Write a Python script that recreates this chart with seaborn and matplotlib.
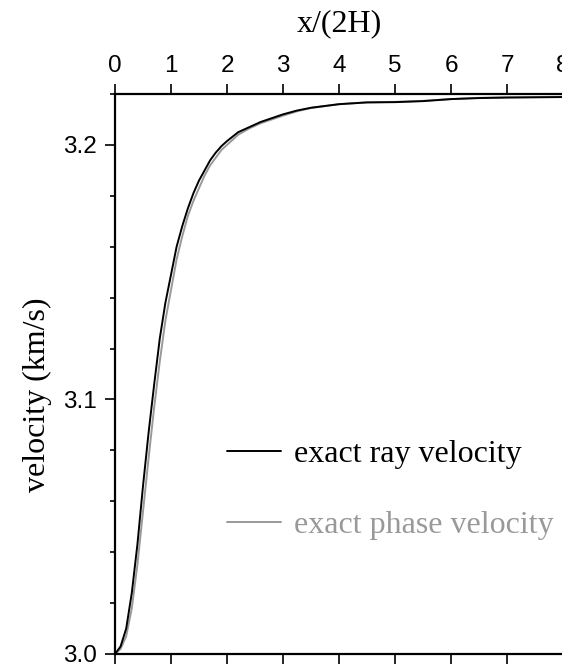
import numpy as np
import pandas as pd
import matplotlib
matplotlib.use("Agg")
import matplotlib.pyplot as plt
import seaborn as sns
from matplotlib.ticker import MultipleLocator

sns.set_style("ticks")
plt.rcParams.update({"text.color": "black", "axes.labelcolor": "black",
                     "xtick.color": "black", "ytick.color": "black",
                     "axes.edgecolor": "black"})

x_vals = [0, 0.1, 0.2, 0.3, 0.4, 0.5, 0.6, 0.7, 0.8, 0.9, 1.0, 1.1, 1.2, 1.3, 1.4,
          1.5, 1.6, 1.7, 1.8, 1.9, 2.0, 2.2, 2.4, 2.6, 2.8, 3.0, 3.25, 3.5, 4.0,
          4.5, 5.0, 5.5, 6.0, 6.5, 7.0, 7.5, 8.0]
ray_velocity = [3.000, 3.003, 3.010, 3.024, 3.043, 3.066, 3.087, 3.106, 3.124, 3.138,
                3.149, 3.160, 3.168, 3.175, 3.181, 3.186, 3.190, 3.194, 3.197, 3.1995,
                3.2015, 3.205, 3.207, 3.209, 3.2105, 3.212, 3.2135, 3.2146, 3.2160,
                3.2167, 3.2168, 3.2172, 3.2180, 3.2184, 3.2186, 3.2187, 3.2188]
phase_velocity = [3.000, 3.002, 3.007, 3.018, 3.035, 3.056, 3.077, 3.097, 3.115, 3.131,
                  3.143, 3.155, 3.164, 3.172, 3.178, 3.183, 3.188, 3.192, 3.195, 3.198,
                  3.200, 3.204, 3.2065, 3.2085, 3.210, 3.2115, 3.2132, 3.2145, 3.2160,
                  3.2167, 3.2169, 3.2173, 3.2180, 3.2185, 3.2187, 3.2188, 3.2189]
labels = ["exact ray velocity", "exact phase velocity"]
x_ticks = [0, 1, 2, 3, 4, 5, 6, 7, 8]
y_ticks = [3.0, 3.1, 3.2]

df = pd.DataFrame({"x": x_vals, "ray": ray_velocity, "phase": phase_velocity})

serif = ["Liberation Serif", "DejaVu Serif"]
sans = ["Liberation Sans", "DejaVu Sans"]

fig = plt.figure(figsize=(5.62, 6.68), dpi=100)
ax = fig.add_axes([115 / 562, 14 / 668, 448 / 562, 560 / 668])

sns.lineplot(data=df, x="x", y="phase", ax=ax, color="#999999", lw=1.4)
sns.lineplot(data=df, x="x", y="ray", ax=ax, color="black", lw=1.4)
lines = ax.get_lines()
h_phase, h_ray = lines[0], lines[1]

ax.set_xlim(0, 8)
ax.set_ylim(3.0, 3.22)
ax.set_xticks(x_ticks)
ax.set_yticks(y_ticks)
ax.set_yticklabels(["3.0", "3.1", "3.2"])
ax.yaxis.set_minor_locator(MultipleLocator(0.02))

ax.spines["right"].set_visible(False)
for s in ["top", "bottom", "left"]:
    ax.spines[s].set_linewidth(1.6)
    ax.spines[s].set_color("black")

ax.tick_params(axis="x", which="major", direction="out", length=7, width=1.2,
               top=True, labeltop=True, bottom=True, labelbottom=False,
               labelsize=17.5, pad=5, colors="black")
ax.tick_params(axis="y", which="major", direction="out", length=7, width=1.2,
               labelsize=17.5, pad=6, colors="black")
ax.tick_params(axis="y", which="minor", direction="out", length=3.6, width=1.2,
               colors="black")
for t in ax.get_xticklabels() + ax.get_yticklabels():
    t.set_fontfamily(sans)
for t in ax.xaxis.get_majorticklabels():
    t.set_clip_on(False)

ax.xaxis.set_label_position("top")
ax.set_xlabel("x/(2H)", fontsize=23, family=serif, color="black")
ax.xaxis.set_label_coords(0.5, 1.113)
ax.set_ylabel("velocity (km/s)", fontsize=23, family=serif, color="black")
ax.yaxis.set_label_coords(-0.14, 0.4625)

leg = ax.legend([h_ray, h_phase], labels, loc="center left",
                bbox_to_anchor=(0.25, 0.293), frameon=False,
                prop={"family": serif, "size": 23},
                handlelength=1.7, handletextpad=0.4, labelspacing=1.3,
                borderpad=0, borderaxespad=0)
leg.get_texts()[0].set_color("black")
leg.get_texts()[1].set_color("#999999")

fig.savefig("out.png", dpi=100)
